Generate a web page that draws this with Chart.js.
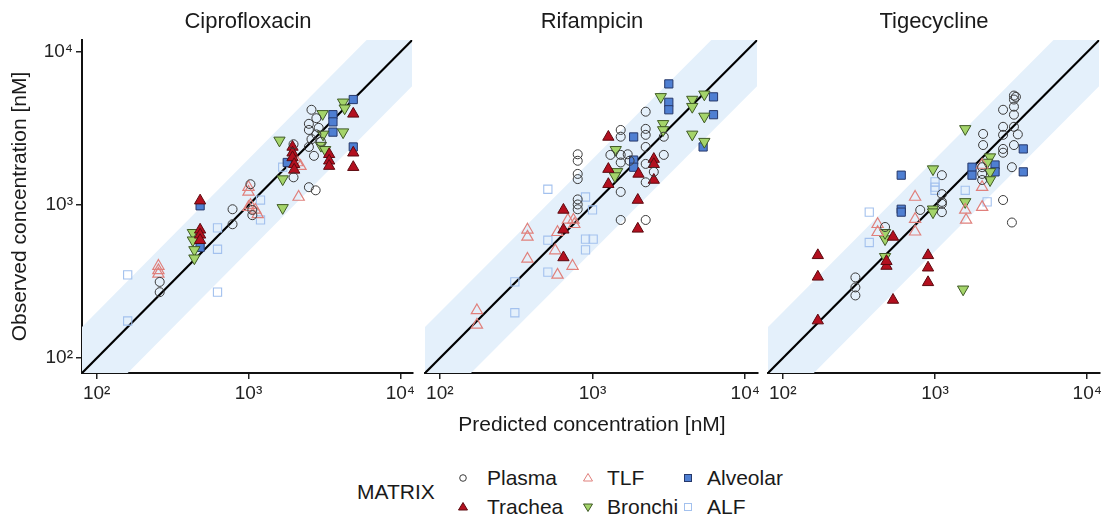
<!DOCTYPE html>
<html>
<head>
<meta charset="utf-8">
<script src="https://cdn.jsdelivr.net/npm/chart.js@4.4.0/dist/chart.umd.min.js"></script>
<style>
  body { margin: 0; background: #fff; font-family: "Liberation Sans", Arial, sans-serif; color: #1a1a1a; }
  #wrap { position: relative; width: 1107px; height: 520px; overflow: hidden; background: #fff; }
  .panel { position: absolute; top: 0; height: 410px; }
  .strip { position: absolute; top: 8px; font-size: 22px; transform: translateX(-50%); white-space: nowrap; }
  #xtitle { position: absolute; top: 412px; left: 592px; font-size: 21px; transform: translateX(-50%); white-space: nowrap; }
  #legend .lab { position: absolute; font-size: 21px; line-height: 24px; white-space: nowrap; }
  #legend svg { position: absolute; }
</style>
</head>
<body>
<div id="wrap">
  <div class="panel" style="left:0;width:420px"><canvas id="c0"></canvas></div>
  <div class="panel" style="left:415px;width:350px"><canvas id="c1"></canvas></div>
  <div class="panel" style="left:758px;width:349px"><canvas id="c2"></canvas></div>
  <div id="titles"></div>
  <div id="xtitle">Predicted concentration [nM]</div>
  <div id="legend"></div>
</div>
<script>
// facets, groups and ticks
const drugs = ['Ciprofloxacin', 'Rifampicin', 'Tigecycline'];
const matrices = ['Plasma', 'Trachea', 'TLF', 'Bronchi', 'Alveolar', 'ALF'];
const tickValues = [100, 1000, 10000];
const tickLabels = ['10²', '10³', '10⁴'];
const axisMin = 80;
const axisMax = 12000;
const foldBand = 2; // 2-fold acceptance band

// [predicted, observed] in nM
const cipPlasma = [[260,315],[260,270],[785,940],[785,750],[1030,1370],[1060,930],[1060,860],[1980,1520],[2500,1310],[2770,1250],[2600,4200],[2500,3400],[2500,3100],[2600,2700],[2500,2400],[2700,2100],[2800,3700],[2900,3200],[2800,2900],[3000,2600],[1980,2500]];
const cipTrachea = [[480,1070],[480,690],[480,640],[480,590],[1950,2400],[1950,2200],[1950,2050],[2000,1850],[2000,1700],[3400,2150],[3400,1950],[3400,1800],[4900,3950],[4900,2200],[4900,1770]];
const cipTLF = [[255,400],[255,375],[255,355],[1000,1310],[1000,1220],[1030,1000],[1000,970],[1110,930],[1150,870],[2140,1130],[2100,1900],[2200,1800]];
const cipBronchi = [[430,660],[430,590],[440,510],[440,450],[1680,960],[1680,1480],[1600,2650],[3080,3950],[3100,2900],[3000,2450],[3200,2300],[4200,3000],[4200,4700],[4300,4300]];
const cipAlveolar = [[480,990],[480,530],[1800,1900],[3600,3900],[3600,3500],[3600,3000],[4900,4900],[4900,2400]];
const cipALF = [[160,350],[160,175],[625,710],[625,515],[625,270],[1200,1080],[1200,800],[1680,1770]];

const rifPlasma = [[800,2150],[800,1950],[800,1600],[800,1480],[800,1090],[800,1010],[800,940],[1530,800],[2230,800],[1530,3100],[1530,2800],[1310,2130],[1530,2130],[1700,2150],[1750,1950],[1530,1220],[2230,4080],[2230,3150],[2230,2880],[2230,2400],[2230,1860],[2230,1410],[2520,1650],[2930,2130],[2930,2800],[1530,1900]];
const rifTrachea = [[645,930],[645,690],[645,455],[1980,1080],[1980,700],[1270,2790],[1270,1720],[1270,1370],[2520,2000],[2520,1850],[2000,1600],[2520,1460]];
const rifTLF = [[175,205],[175,165],[375,690],[375,620],[375,445],[570,505],[590,350],[590,665],[740,400],[750,800],[760,750],[690,800]];
const rifBronchi = [[1420,2300],[1450,1650],[1400,1550],[2800,5100],[2900,3400],[2900,3100],[4500,4900],[4500,4400],[4500,2900],[5400,5300],[5400,3800],[5400,2600]];
const rifAlveolar = [[1860,2790],[1860,1970],[1860,1770],[3160,6200],[3160,4700],[3160,4200],[6200,5100],[6200,3900],[5300,2400]];
const rifALF = [[310,198],[310,315],[510,590],[510,365],[900,1130],[1000,930],[900,600],[1010,600],[900,510],[510,1270]];

const tigPlasma = [[300,337],[300,290],[300,257],[470,720],[800,930],[1110,1180],[1110,1050],[1110,900],[1110,1570],[1110,1020],[2070,2920],[2070,2470],[2040,1770],[2040,1600],[2040,1460],[2800,1080],[3200,770],[2800,3250],[2800,2880],[2800,2330],[2800,2200],[3300,5200],[3400,5100],[3300,4900],[3300,4400],[2800,4200],[3300,3900],[3300,3250],[3500,2900],[3300,2470],[3200,1770]];
const tigTrachea = [[170,470],[170,340],[170,176],[480,400],[480,430],[530,240],[530,620],[900,470],[900,390],[900,313]];
const tigTLF = [[420,750],[420,665],[740,1130],[740,810],[740,670],[1580,930],[1600,800],[2040,1310],[2040,970],[2040,1830]];
const tigBronchi = [[470,460],[470,600],[470,660],[970,940],[970,900],[970,1720],[1580,3150],[1580,1050],[2300,2060],[2300,1650],[2300,1460],[2200,1900],[1530,282]];
const tigAlveolar = [[600,1570],[600,940],[600,900],[1750,1770],[1750,1570],[2480,1830],[2480,1650],[3800,2330],[3800,1650]];
const tigALF = [[370,900],[370,570],[1000,1420],[1000,1310],[1000,1250],[1580,1250],[2200,1050]];

const seriesByDrug = [
  [cipPlasma, cipTrachea, cipTLF, cipBronchi, cipAlveolar, cipALF],
  [rifPlasma, rifTrachea, rifTLF, rifBronchi, rifAlveolar, rifALF],
  [tigPlasma, tigTrachea, tigTLF, tigBronchi, tigAlveolar, tigALF]
];

// look
const FONT = '"Liberation Sans", Arial, sans-serif';
const bandColor = '#e4f0fb';
const matrixStyle = {
  Plasma:   { shape: 'circle',   rot: 0,   r: 4.5, fill: 'rgba(0,0,0,0)', stroke: '#3a3a3a', bw: 1 },
  Trachea:  { shape: 'triangle', rot: 0,   r: 6.5, fill: '#b3101f',       stroke: '#5c0a10', bw: 1 },
  TLF:      { shape: 'triangle', rot: 0,   r: 6.5, fill: 'rgba(0,0,0,0)', stroke: '#e0807c', bw: 1.2 },
  Bronchi:  { shape: 'triangle', rot: 180, r: 6.5, fill: '#a4d46a',       stroke: '#3f5a25', bw: 1 },
  Alveolar: { shape: 'rect',     rot: 0,   r: 5.8, fill: '#4f7fd2',       stroke: '#26386a', bw: 1 },
  ALF:      { shape: 'rect',     rot: 0,   r: 5.8, fill: 'rgba(0,0,0,0)', stroke: '#a3c1ee', bw: 1.1 }
};

// canvas boxes so that the three plot areas line up like the facets
const panelBoxes = [
  { pad: { top: 40, left: 8, right: 7, bottom: 0 }, yAxis: true },
  { pad: { top: 40, left: 10, right: 5, bottom: 0 }, yAxis: false },
  { pad: { top: 40, left: 10, right: 7, bottom: 0 }, yAxis: false }
];

function logAxis(show, titleText) {
  return {
    type: 'logarithmic',
    display: show,
    min: axisMin,
    max: axisMax,
    afterBuildTicks: (a) => { a.ticks = tickValues.map(v => ({ value: v })); },
    ticks: {
      callback: (v, i) => tickLabels[i],
      font: { family: FONT, size: 19 },
      color: '#222',
      padding: 3,
      maxRotation: 0,
      autoSkip: false
    },
    grid: { drawOnChartArea: false, drawTicks: true, tickLength: 6, color: '#222', lineWidth: 1.5 },
    border: { display: true, color: '#111', width: 2 },
    title: titleText ? { display: true, text: titleText, font: { family: FONT, size: 21 }, color: '#1a1a1a', padding: { top: 0, bottom: 4 } } : { display: false }
  };
}

function makeChart(idx) {
  const box = panelBoxes[idx];
  const datasets = [];

  // fold band (upper edge filled down to lower edge)
  datasets.push({
    data: [{ x: axisMin, y: axisMin * foldBand }, { x: axisMax, y: axisMax * foldBand }],
    showLine: true, pointRadius: 0, borderWidth: 0, borderColor: 'rgba(0,0,0,0)',
    backgroundColor: bandColor, fill: '+1', order: 30
  });
  datasets.push({
    data: [{ x: axisMin, y: axisMin / foldBand }, { x: axisMax, y: axisMax / foldBand }],
    showLine: true, pointRadius: 0, borderWidth: 0, borderColor: 'rgba(0,0,0,0)',
    fill: false, order: 29
  });
  // line of identity
  datasets.push({
    data: [{ x: axisMin, y: axisMin }, { x: axisMax, y: axisMax }],
    showLine: true, pointRadius: 0, borderColor: '#000', borderWidth: 2.2, fill: false, order: 28
  });

  seriesByDrug[idx].forEach((pts, k) => {
    const st = matrixStyle[matrices[k]];
    datasets.push({
      label: matrices[k],
      data: pts.map(p => ({ x: p[0], y: p[1] })),
      pointStyle: st.shape,
      rotation: st.rot,
      pointRadius: st.r,
      pointBackgroundColor: st.fill,
      pointBorderColor: st.stroke,
      pointBorderWidth: st.bw,
      showLine: false,
      order: k
    });
  });

  const x = logAxis(true, null);
  x.afterFit = (s) => { s.height = 37; };
  const y = logAxis(box.yAxis, box.yAxis ? 'Observed concentration [nM]' : null);
  if (box.yAxis) y.afterFit = (s) => { s.width = 74; };

  new Chart(document.getElementById('c' + idx).getContext('2d'), {
    type: 'scatter',
    data: { datasets },
    options: {
      responsive: true,
      maintainAspectRatio: false,
      animation: false,
      layout: { padding: box.pad },
      plugins: { legend: { display: false }, tooltip: { enabled: false } },
      scales: { x, y }
    }
  });
}

for (let i = 0; i < drugs.length; i++) makeChart(i);

// facet strip titles
const stripCenters = [248, 592, 934];
const titles = document.getElementById('titles');
drugs.forEach((d, i) => {
  const el = document.createElement('div');
  el.className = 'strip';
  el.style.left = stripCenters[i] + 'px';
  el.textContent = d;
  titles.appendChild(el);
});

// legend: MATRIX title + 2 rows x 3 columns
function keySvg(st) {
  const s = 12, c = 6;
  let shape;
  if (st.shape === 'circle') shape = `<circle cx="${c}" cy="${c}" r="3.3"/>`;
  else if (st.shape === 'rect') shape = `<rect x="2.5" y="2.5" width="7" height="7"/>`;
  else if (st.rot === 180) shape = `<polygon points="1.5,3 10.5,3 6,10.5"/>`;
  else shape = `<polygon points="6,1.5 10.5,9 1.5,9"/>`;
  const fill = st.fill.startsWith('rgba') ? 'none' : st.fill;
  return `<svg width="${s}" height="${s}" viewBox="0 0 ${s} ${s}"><g fill="${fill}" stroke="${st.stroke}" stroke-width="1">${shape}</g></svg>`;
}
const legend = document.getElementById('legend');
const legTitle = document.createElement('div');
legTitle.className = 'lab';
legTitle.style.left = '357px';
legTitle.style.top = '480px';
legTitle.textContent = 'MATRIX';
legend.appendChild(legTitle);
const colKeyX = [463, 588, 688];
const rowY = [478, 507];
// column-major: Plasma, Trachea | TLF, Bronchi | Alveolar, ALF
matrices.forEach((m, k) => {
  const col = Math.floor(k / 2), row = k % 2;
  const wrap = document.createElement('div');
  wrap.innerHTML = keySvg(matrixStyle[m]);
  const svg = wrap.firstChild;
  svg.style.left = (colKeyX[col] - 6) + 'px';
  svg.style.top = (rowY[row] - 6) + 'px';
  legend.appendChild(svg);
  const lab = document.createElement('div');
  lab.className = 'lab';
  lab.style.left = (colKeyX[col] + (col === 0 ? 24 : 19)) + 'px';
  lab.style.top = (rowY[row] - 12) + 'px';
  lab.textContent = m;
  legend.appendChild(lab);
});
</script>
</body>
</html>
